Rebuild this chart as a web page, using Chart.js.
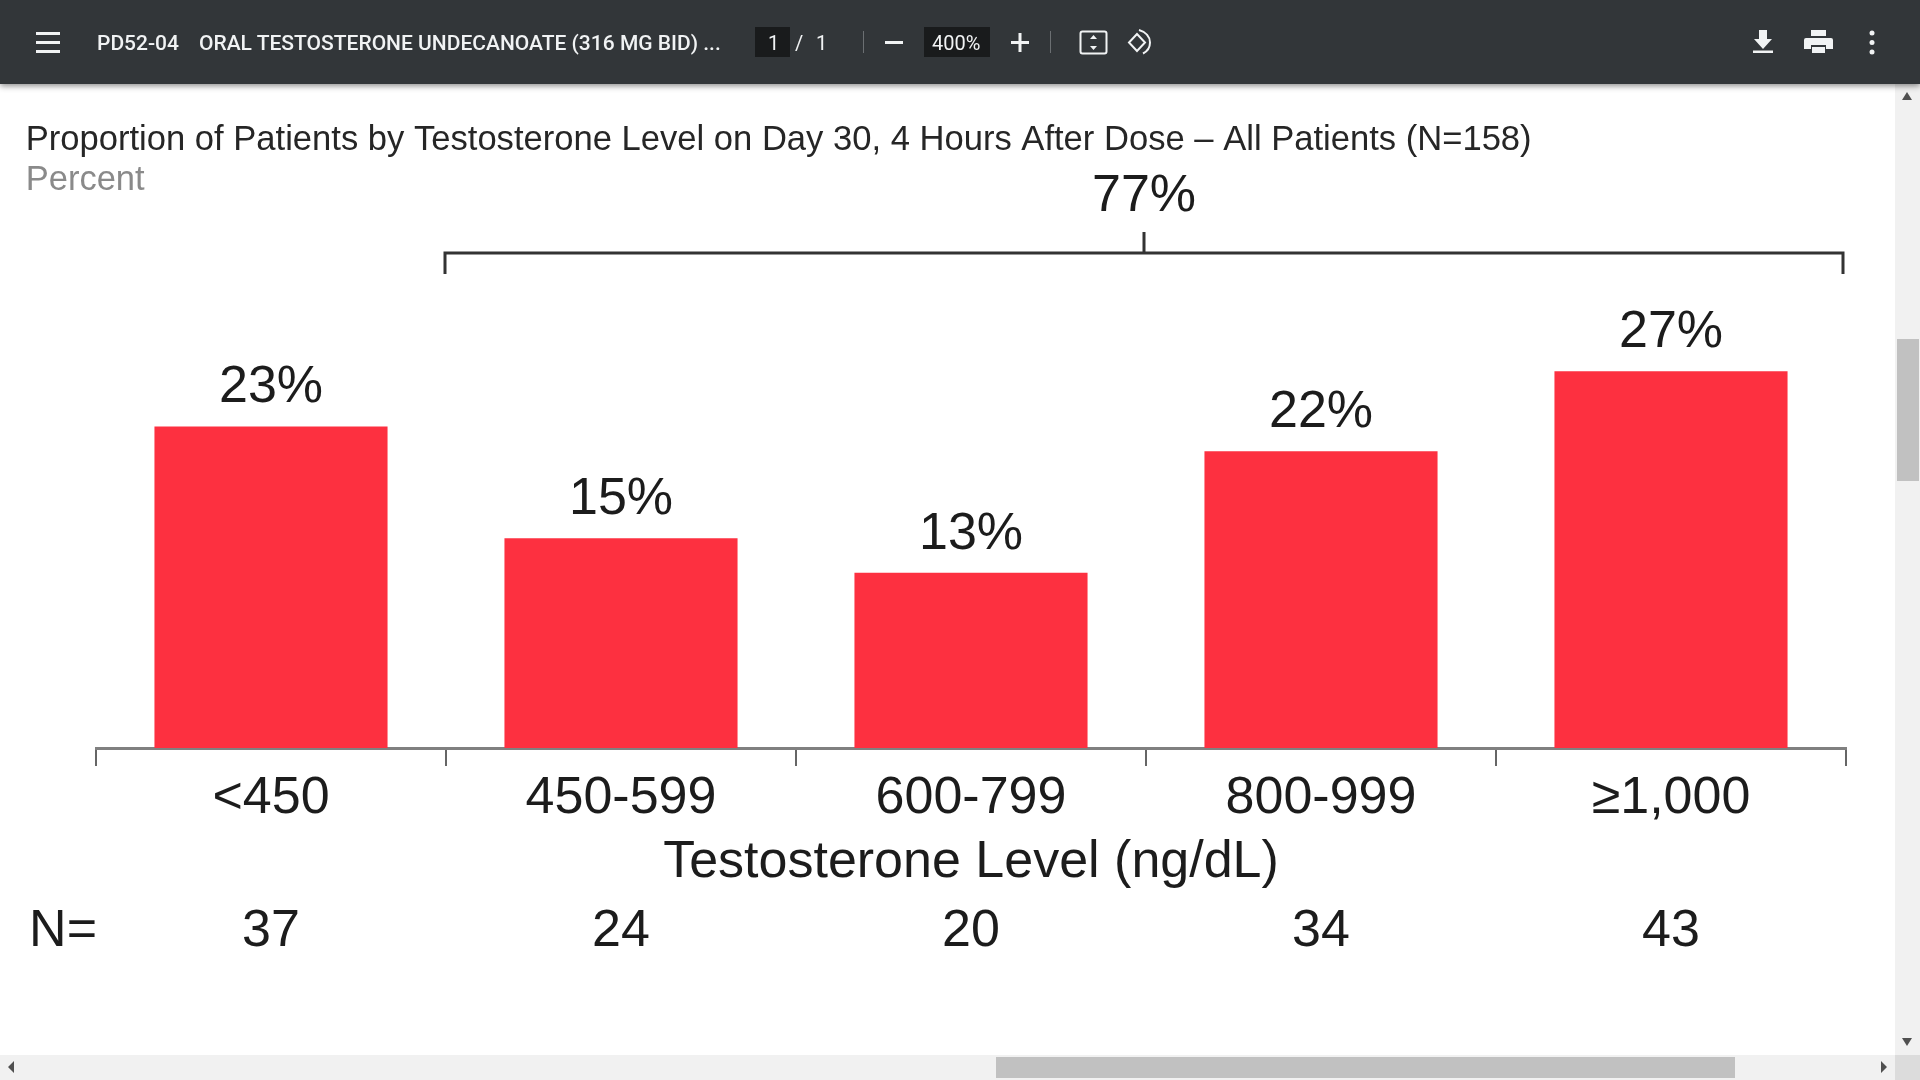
<!DOCTYPE html>
<html><head><meta charset="utf-8">
<script src="https://cdn.jsdelivr.net/npm/chart.js@4/dist/chart.umd.min.js"></script>
<style>
html,body{margin:0;padding:0;width:1920px;height:1080px;overflow:hidden;background:#fff}
#bar{position:absolute;left:0;top:0;width:1920px;height:84px;background:#323639;box-shadow:0 2px 6px rgba(0,0,0,.45);z-index:5;color:#f1f3f4;font-family:Roboto,sans-serif;font-size:21px;font-weight:500}
#bar span,#bar div,#bar svg{position:absolute}
.t{top:30px;line-height:26px;white-space:nowrap}
.s{font-size:20px;font-weight:400}
.box{background:#191b1c;top:27px;height:30px}
.sep{background:#6b6f72;width:1px;top:31px;height:22px}
#c{position:absolute;left:0;top:84px;filter:blur(0.6px)}
#sv{position:absolute;left:1895px;top:84px;width:25px;height:971px;background:#f1f1f1}
#sh{position:absolute;left:0;top:1055px;width:1920px;height:25px;background:#f1f1f1}
#corner{position:absolute;left:1895px;top:1055px;width:25px;height:25px;background:#dcdcdc}
.thumb{position:absolute;background:#c1c1c1}
.ov{position:absolute;left:0;top:0}
</style></head><body>
<canvas id="c" width="1895" height="971" style="width:1895px;height:971px"></canvas>
<div id="sv"></div><div id="sh"></div><div id="corner"></div>
<div class="thumb" style="left:1897px;top:339px;width:22px;height:142px"></div>
<div class="thumb" style="left:996px;top:1057px;width:739px;height:21px"></div>
<svg class="ov" width="1920" height="1080" style="pointer-events:none">
<path d="M1907 92l5 8h-10zM1907 1046l5 -8h-10z" fill="#505050"/>
<path d="M8 1067l6 -6v12zM1887 1067l-6 -6v12z" fill="#505050"/>
</svg>
<div id="bar">
<svg width="1920" height="84" style="left:0;top:0">
<path d="M36 32h24v3H36zM36 41h24v3H36zM36 50h24v3H36z" fill="#f1f3f4"/>
<path d="M885 41h18v3h-18zM1011 41h18v3h-18zM1018.500 33h3v19h-3z" fill="#f1f3f4"/>
<rect x="1080.500" y="31.500" width="26" height="22" rx="2" fill="none" stroke="#f1f3f4" stroke-width="2"/>
<path d="M1093.500 35l3.500 4h-7zM1093.500 50l3.500 -4h-7z" fill="#f1f3f4"/>
<path d="M1137 34l-8 8.500 8 8.500 8 -8.500z" fill="none" stroke="#f1f3f4" stroke-width="2"/>
<path d="M1139 30c7 2 11 7 11 12.500c0 5-3 9-7 11" fill="none" stroke="#f1f3f4" stroke-width="2"/>
<path d="M1759 30h8v9h5l-9 10-9-10h5zM1753 50.500h20v2.500h-20z" fill="#f1f3f4"/>
<path d="M1811 30h15v6h-15zM1806 38h25a2 2 0 0 1 2 2v9h-7v-4h-15v4h-7v-9a2 2 0 0 1 2-2zM1812 47h13v6h-13z" fill="#f1f3f4"/>
<circle cx="1872" cy="33" r="2.500" fill="#f1f3f4"/><circle cx="1872" cy="42.500" r="2.500" fill="#f1f3f4"/><circle cx="1872" cy="52" r="2.500" fill="#f1f3f4"/>
</svg>
<span class="t" style="left:97px">PD52-04</span>
<span class="t" style="left:199px">ORAL TESTOSTERONE UNDECANOATE (316 MG BID) ...</span>
<div class="box" style="left:755px;width:35px"></div>
<span class="t s" style="left:768px">1</span>
<span class="t s" style="left:795px">/</span>
<span class="t s" style="left:816px">1</span>
<div class="sep" style="left:863px"></div>
<div class="box" style="left:924px;width:66px"></div>
<span class="t s" style="left:932px">400%</span>
<div class="sep" style="left:1050px"></div>
</div>
<script>
const categories = ["<450","450-599","600-799","800-999","\u22651,000"];
const barValues = [23.3,15.2,12.7,21.5,27.3];
const barLabels = ["23%","15%","13%","22%","27%"];
const patientCounts = ["37","24","20","34","43"];
const countPrefix = "N=";
const bracketLabel = "77%";
const chartTitle = "Proportion of Patients by Testosterone Level on Day 30, 4 Hours After Dose \u2013 All Patients (N=158)";
const chartSubtitle = "Percent";
const axisTitle = "Testosterone Level (ng/dL)";

const FONT = '"Liberation Sans", Arial, sans-serif';
const INK = '#1c1c1c';
const annotate = {
  id:'annotate',
  afterDatasetsDraw(chart){
    const {ctx,scales:{x,y}} = chart;
    const meta = chart.getDatasetMeta(0);
    ctx.save();
    ctx.fillStyle = INK;
    ctx.textAlign = 'center';
    ctx.textBaseline = 'alphabetic';
    ctx.font = '52px '+FONT;
    meta.data.forEach((b,i)=>ctx.fillText(barLabels[i],b.x,b.y-24));
    // N row
    const rowY = 946-84;
    patientCounts.forEach((n,i)=>ctx.fillText(n,x.getPixelForValue(i),rowY));
    ctx.textAlign='right';
    ctx.fillText(countPrefix,x.left+1,rowY);
    // bracket
    const step = x.getPixelForValue(1)-x.getPixelForValue(0);
    const L = x.getPixelForValue(0)+step/2-1, R = x.right-3, M=(L+R)/2;
    const by = y.getPixelForValue(35.87);
    ctx.strokeStyle='#333'; ctx.lineWidth=3;
    ctx.beginPath();
    ctx.moveTo(L,by+21);ctx.lineTo(L,by);ctx.lineTo(R,by);ctx.lineTo(R,by+21);
    ctx.moveTo(M,by);ctx.lineTo(M,by-21);
    ctx.stroke();
    ctx.textAlign='center';
    ctx.fillText(bracketLabel,M,by-42);
    ctx.restore();
  }
};
new Chart(document.getElementById('c'),{
  type:'bar',
  data:{labels:categories,datasets:[{data:barValues,backgroundColor:'#FD3040',borderWidth:0,barPercentage:0.666,categoryPercentage:1}]},
  plugins:[annotate],
  options:{
    responsive:false,animation:false,devicePixelRatio:1,
    layout:{padding:{left:25.7,right:49,top:0,bottom:0}},
    plugins:{
      legend:{display:false},tooltip:{enabled:false},
      title:{display:true,text:chartTitle,align:'start',color:'#262626',
        font:{family:FONT,size:34.6,weight:'normal',lineHeight:1},padding:{top:39.4,bottom:7}},
      subtitle:{display:true,text:chartSubtitle,align:'start',color:'#8a8a8a',
        font:{family:FONT,size:34.5,weight:'normal',lineHeight:0.9},padding:{top:0,bottom:0}}
    },
    scales:{
      x:{
        afterFit(s){s.height=307;},
        grid:{drawOnChartArea:false,drawTicks:true,tickLength:18,color:'#666',lineWidth:2,offset:true},
        border:{display:true,color:'#808080',width:3},
        ticks:{color:INK,font:{family:FONT,size:52,lineHeight:1},padding:6.5,maxRotation:0,autoSkip:false},
        title:{display:true,text:axisTitle,color:INK,font:{family:FONT,size:52,lineHeight:1},padding:{top:0,bottom:166}}
      },
      y:{
        min:0,max:40,
        afterFit(s){s.width=70.3;},
        grid:{display:false},border:{display:false},
        ticks:{display:false}
      }
    }
  }
});
</script>
</body></html>
